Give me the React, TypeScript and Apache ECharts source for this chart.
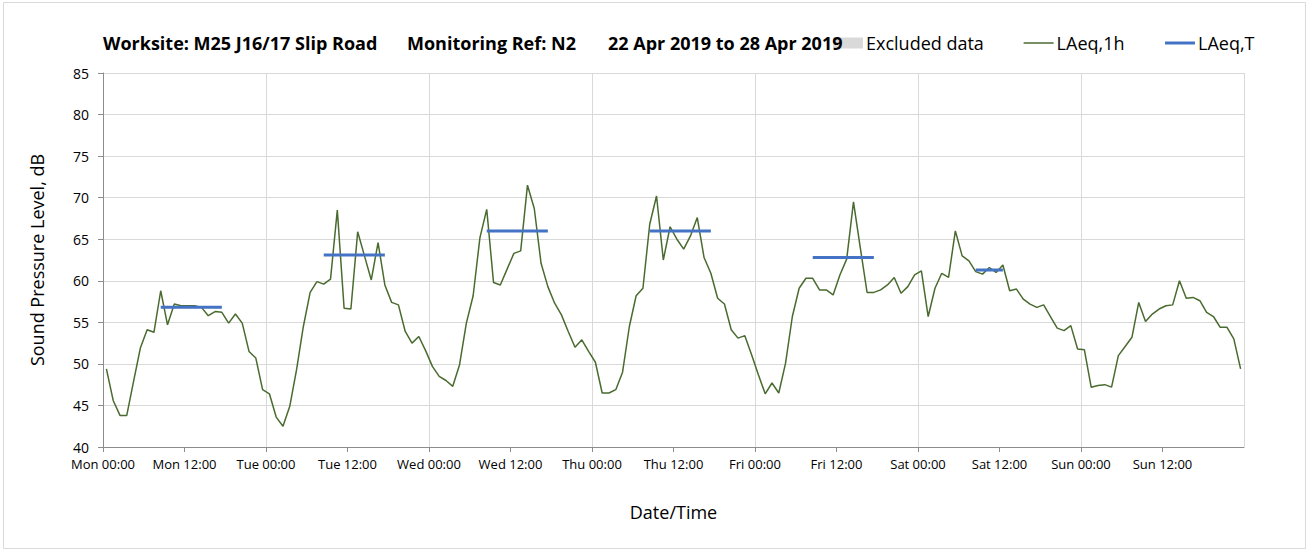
import React, { useEffect, useRef } from "react";
import * as echarts from "echarts";

const dayNames = ["Mon", "Tue", "Wed", "Thu", "Fri", "Sat", "Sun"];
const xTickTimes = ["00:00", "12:00"];

const monLevels = [49.4, 45.6, 43.8, 43.8, 47.9, 51.9, 54.1, 53.8, 58.8, 54.7, 57.2, 57.0, 57.0, 57.0, 56.8, 55.8, 56.3, 56.2, 54.9, 56.0, 54.9, 51.5, 50.7, 46.9];
const tueLevels = [46.4, 43.6, 42.5, 44.9, 49.3, 54.5, 58.6, 59.9, 59.6, 60.2, 68.5, 56.7, 56.6, 65.9, 63.0, 60.1, 64.6, 59.5, 57.4, 57.1, 53.9, 52.5, 53.3, 51.6];
const wedLevels = [49.7, 48.5, 48.0, 47.3, 49.9, 54.9, 58.2, 65.2, 68.6, 59.8, 59.5, 61.4, 63.3, 63.6, 71.5, 68.7, 62.1, 59.3, 57.3, 55.9, 53.9, 52.0, 52.9, 51.5];
const thuLevels = [50.2, 46.5, 46.5, 46.9, 49.0, 54.5, 58.2, 59.1, 66.8, 70.2, 62.5, 66.5, 65.0, 63.8, 65.4, 67.6, 62.8, 60.9, 57.9, 57.2, 54.1, 53.1, 53.4, 51.1];
const friLevels = [48.7, 46.4, 47.7, 46.5, 50.1, 55.7, 59.1, 60.3, 60.3, 58.9, 58.9, 58.3, 60.7, 62.6, 69.5, 64.0, 58.6, 58.6, 58.9, 59.5, 60.4, 58.5, 59.3, 60.7];
const satLevels = [61.2, 55.7, 59.1, 60.9, 60.4, 66.0, 63.0, 62.4, 61.1, 60.8, 61.6, 61.0, 61.9, 58.8, 59.0, 57.8, 57.2, 56.8, 57.1, 55.7, 54.3, 54.0, 54.6, 51.8];
const sunLevels = [51.7, 47.2, 47.4, 47.5, 47.2, 51.0, 52.1, 53.2, 57.4, 55.1, 56.0, 56.6, 57.0, 57.1, 60.0, 57.9, 58.0, 57.6, 56.2, 55.7, 54.4, 54.4, 53.0, 49.4];

// LAeq,T per day and its measurement period (hour indices, inclusive)
const laeqT = [56.8, 63.1, 66.0, 66.0, 62.8, 61.3, null];
const periodStartHour = [8, 8, 8, 8, 8, 8, null];
const periodEndHour = [17, 17, 17, 17, 17, 12, null];

const titleParts = [
  "Worksite: M25 J16/17 Slip Road",
  "Monitoring Ref: N2",
  "22 Apr 2019 to 28 Apr 2019",
];

const FONT = "'Open Sans', sans-serif";
const GREEN = "#4a6b2f";
const BLUE = "#4472c4";

export default function App() {
  const ref = useRef<HTMLDivElement>(null);

  useEffect(() => {
    document.body.style.margin = "0";
    if (!ref.current) return;
    const chart = echarts.init(ref.current, undefined, { renderer: "svg" });

    const hourly = [
      ...monLevels, ...tueLevels, ...wedLevels, ...thuLevels,
      ...friLevels, ...satLevels, ...sunLevels,
    ];
    const hourlyData = hourly.map((v, i) => [i + 0.5, v]);

    const blueSeries: any[] = [];
    laeqT.forEach((v, d) => {
      if (v == null) return;
      const s = periodStartHour[d] as number;
      const e = periodEndHour[d] as number;
      const pts: number[][] = [];
      for (let h = s; h <= e; h++) pts.push([d * 24 + h + 0.5, v]);
      blueSeries.push({
        name: "LAeq,T",
        type: "line",
        data: pts,
        showSymbol: false,
        symbol: "none",
        lineStyle: { color: BLUE, width: 3 },
        itemStyle: { color: BLUE },
        z: 3,
      });
    });

    const titleLefts = [103, 407, 608];

    chart.setOption({
      animation: false,
      backgroundColor: "#ffffff",
      title: titleParts.map((t, i) => ({
        text: t,
        left: titleLefts[i],
        top: 34,
        padding: 0,
        textStyle: { fontFamily: FONT, fontSize: 18, fontWeight: "bold", color: "#000" },
      })),
      legend: {
        data: [
          { name: "Excluded data", icon: "rect" },
          { name: "LAeq,1h", itemStyle: { opacity: 0, color: "transparent", borderWidth: 0 }, lineStyle: { color: GREEN, width: 1.5 } },
          { name: "LAeq,T", itemStyle: { opacity: 0, color: "transparent", borderWidth: 0 }, lineStyle: { color: BLUE, width: 3 } },
        ],
        left: 833,
        top: 34,
        padding: 0,
        itemGap: 39,
        itemWidth: 30,
        itemHeight: 11,
        textStyle: { fontFamily: FONT, fontSize: 18, color: "#000", padding: [0, 0, 0, -2] },
      },
      graphic: [
        {
          type: "rect",
          shape: { x: 3.5, y: 2.5, width: 1302, height: 546 },
          style: { fill: "none", stroke: "#d9d9d9", lineWidth: 1 },
          silent: true,
          z: -10,
        },
      ],
      grid: { left: 103, top: 73, width: 1141, height: 374, containLabel: false },
      xAxis: [
        {
          type: "value",
          min: 0,
          max: 168,
          interval: 12,
          name: "Date/Time",
          nameLocation: "middle",
          nameGap: 56,
          nameTextStyle: { fontFamily: FONT, fontSize: 18, color: "#000" },
          axisLine: { show: true, lineStyle: { color: "#8c8c8c", width: 1 } },
          axisTick: { show: true, length: 5, lineStyle: { color: "#8c8c8c" } },
          axisLabel: {
            fontFamily: FONT,
            fontSize: 13,
            color: "#000",
            margin: 10,
            showMaxLabel: false,
            formatter: (val: number) => {
              if (val >= 168) return "";
              const d = Math.floor(val / 24);
              const t = Math.round((val % 24) / 12);
              return `${dayNames[d]} ${xTickTimes[t]}`;
            },
          },
          splitLine: { show: false },
        },
        {
          type: "value",
          min: 0,
          max: 168,
          interval: 24,
          position: "bottom",
          axisLine: { show: false },
          axisTick: { show: false },
          axisLabel: { show: false },
          splitLine: { show: true, lineStyle: { color: "#d9d9d9", width: 1 } },
        },
      ],
      yAxis: {
        type: "value",
        min: 40,
        max: 85,
        interval: 5,
        name: "Sound Pressure Level, dB",
        nameLocation: "middle",
        nameGap: 57,
        nameTextStyle: { fontFamily: FONT, fontSize: 18, color: "#000" },
        axisLine: { show: true, lineStyle: { color: "#8c8c8c", width: 1 } },
        axisTick: { show: true, inside: false, length: 5, lineStyle: { color: "#8c8c8c" } },
        axisLabel: { fontFamily: FONT, fontSize: 14, color: "#000", margin: 14 },
        splitLine: { show: true, lineStyle: { color: "#d9d9d9", width: 1 } },
      },
      series: [
        {
          name: "Excluded data",
          type: "bar",
          data: [],
          itemStyle: { color: "#d9d9d9" },
        },
        {
          name: "LAeq,1h",
          type: "line",
          data: hourlyData,
          showSymbol: false,
          symbol: "none",
          lineStyle: { color: GREEN, width: 1.5 },
          itemStyle: { color: GREEN },
          z: 2,
        },
        ...blueSeries,
      ],
    });

    return () => chart.dispose();
  }, []);

  return <div ref={ref} style={{ width: 1314, height: 553 }} />;
}
